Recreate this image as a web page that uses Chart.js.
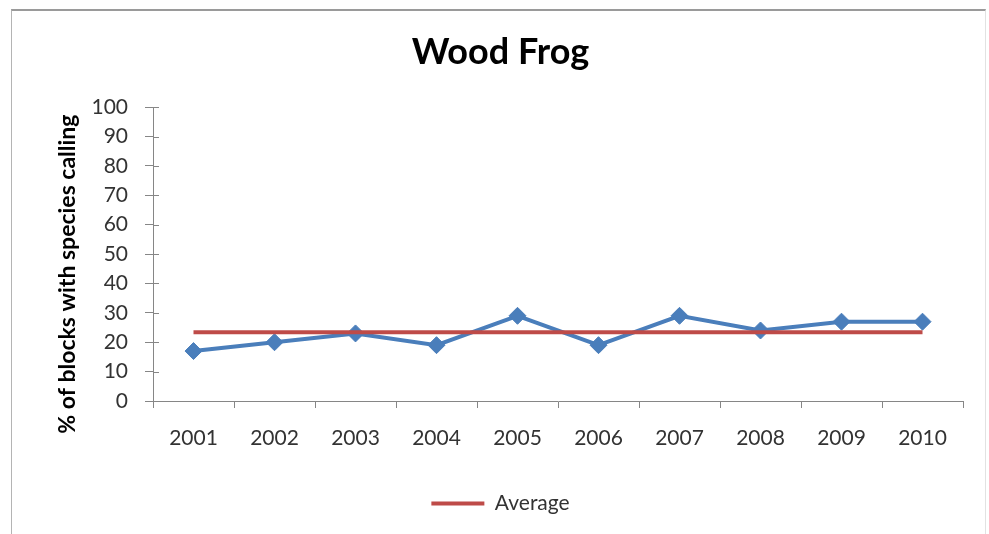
<!DOCTYPE html>
<html>
<head>
<meta charset="utf-8">
<script src="https://cdn.jsdelivr.net/npm/chart.js@4/dist/chart.umd.min.js"></script>
<style>
  html, body { margin: 0; padding: 0; background: #ffffff; }
  #wrap { position: relative; width: 989px; height: 534px; overflow: hidden; }
  #frame {
    position: absolute; left: 11px; top: 9px; width: 975px; height: 560px;
    border-top: 2px solid #9a9a9a; border-left: 1px solid #b4b4b4; border-right: 1px solid #e2e2e2;
    box-sizing: border-box;
  }
  canvas { position: absolute; left: 0; top: 0; }
</style>
</head>
<body>
<div id="wrap">
  <div id="frame"></div>
  <canvas id="c" width="989" height="534"></canvas>
</div>
<script>
// Survey years and share of blocks where the species was heard calling
const years = ['2001', '2002', '2003', '2004', '2005', '2006', '2007', '2008', '2009', '2010'];
const pctCalling = [17, 20, 23, 19, 29, 19, 29, 24, 27, 27];
// Ten-year mean, drawn as a flat reference line
const averageValue = 23.4;
const averageLine = years.map(() => averageValue);
const yTicks = [0, 10, 20, 30, 40, 50, 60, 70, 80, 90, 100];
const yAxisTitle = '% of blocks with species calling';

const FONT = 'Lato, "Open Sans", sans-serif';
const AXIS_GREY = '#868686';
const TEXT = '#333333';

// Vertical value-axis title, placed a little below the plot's middle
const yTitlePlugin = {
  id: 'yTitle',
  afterDraw(chart) {
    const { ctx, chartArea } = chart;
    ctx.save();
    ctx.translate(68, (chartArea.top + chartArea.bottom) / 2 + 20);
    ctx.rotate(-Math.PI / 2);
    ctx.font = 'bold 23px ' + FONT;
    ctx.fillStyle = '#000000';
    ctx.textAlign = 'center';
    ctx.textBaseline = 'middle';
    ctx.fillText(yAxisTitle, 0, 0);
    ctx.restore();
  }
};

// Value-axis tick marks cross the axis line: add the short inner half
const crossTicksPlugin = {
  id: 'crossTicks',
  afterDraw(chart) {
    const { ctx, chartArea, scales } = chart;
    ctx.save();
    ctx.strokeStyle = AXIS_GREY;
    ctx.lineWidth = 1;
    ctx.beginPath();
    yTicks.forEach(v => {
      const py = Math.round(scales.y.getPixelForValue(v)) + 0.5;
      ctx.moveTo(chartArea.left, py);
      ctx.lineTo(chartArea.left + 6, py);
    });
    ctx.stroke();
    ctx.restore();
  }
};

new Chart(document.getElementById('c'), {
  type: 'line',
  data: {
    labels: years,
    datasets: [
      {
        label: 'Wood Frog',
        data: pctCalling,
        borderColor: '#4a7ebb',
        backgroundColor: '#4a7ebb',
        borderWidth: 4,
        pointStyle: 'rectRot',
        pointRadius: 8.5,
        pointBorderWidth: 1,
        pointBackgroundColor: '#4a7ebb',
        pointBorderColor: '#4a7ebb',
        tension: 0,
        order: 1
      },
      {
        label: 'Average',
        data: averageLine,
        borderColor: '#be4b48',
        backgroundColor: '#be4b48',
        borderWidth: 4,
        pointRadius: 0,
        tension: 0,
        order: 0
      }
    ]
  },
  options: {
    responsive: false,
    animation: false,
    layout: { padding: { top: 10, left: 12, right: 0, bottom: 10 } },
    plugins: {
      title: {
        display: true,
        text: 'Wood Frog',
        color: '#000000',
        font: { family: FONT, size: 36, weight: 'bold' },
        padding: { top: 21, bottom: 33 }
      },
      legend: {
        position: 'bottom',
        labels: {
          filter: (item) => item.text === 'Average',
          usePointStyle: true,
          pointStyle: 'line',
          pointStyleWidth: 53,
          color: TEXT,
          font: { family: FONT, size: 21 },
          padding: 10
        }
      },
      tooltip: { enabled: false }
    },
    scales: {
      x: {
        offset: true,
        grid: {
          offset: true,
          drawOnChartArea: false,
          drawTicks: true,
          tickLength: 7,
          color: AXIS_GREY
        },
        border: { color: AXIS_GREY, width: 1 },
        ticks: { color: TEXT, font: { family: FONT, size: 21 }, padding: 18, maxRotation: 0 },
        afterFit: (s) => { s.height = 82; }
      },
      y: {
        min: 0,
        max: 100,
        afterBuildTicks: (s) => { s.ticks = yTicks.map(v => ({ value: v })); },
        grid: {
          drawOnChartArea: false,
          drawTicks: true,
          tickLength: 8,
          color: AXIS_GREY
        },
        border: { color: AXIS_GREY, width: 1 },
        ticks: { color: TEXT, font: { family: FONT, size: 21 }, padding: 17 },
        afterFit: (s) => { s.width = 141; }
      },
      // empty margin on the right so the plot ends short of the frame
      yRight: {
        position: 'right',
        display: true,
        grid: { display: false },
        border: { display: false },
        ticks: { display: false },
        afterFit: (s) => { s.width = 26; }
      }
    }
  },
  plugins: [yTitlePlugin, crossTicksPlugin]
});
</script>
</body>
</html>
